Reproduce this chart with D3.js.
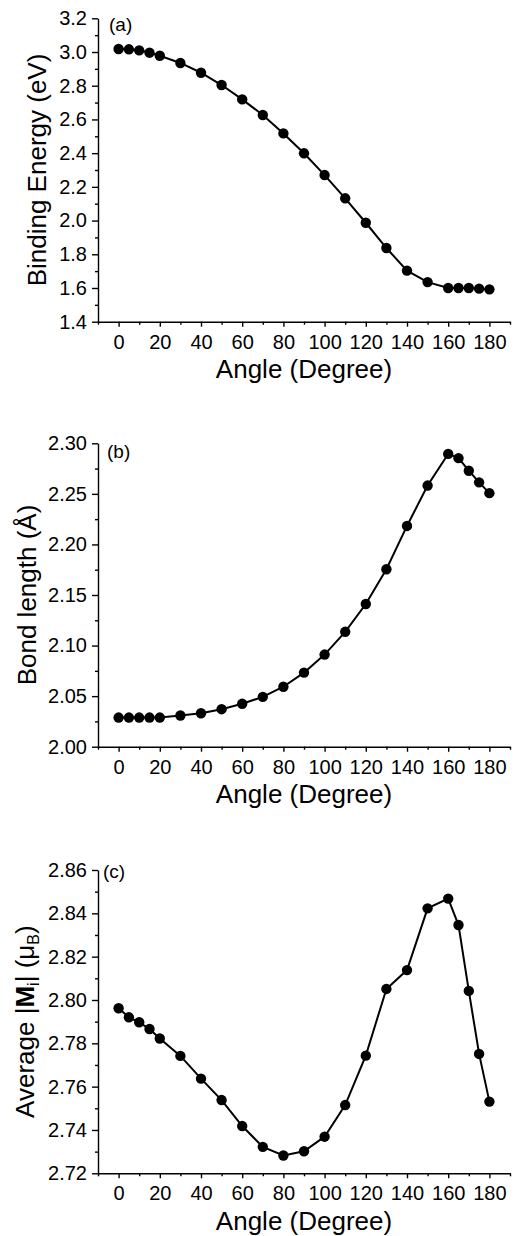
<!DOCTYPE html>
<html>
<head>
<meta charset="utf-8">
<script src="https://cdn.jsdelivr.net/npm/d3@7"></script>
<style>
  html, body { margin: 0; padding: 0; background: #fff; }
  svg { display: block; }
  text { font-family: "Liberation Sans", Arial, sans-serif; fill: #000; }
</style>
</head>
<body>
<svg id="chart" width="515" height="1236"></svg>
<script>
// ---- data ----
const angles = [0, 5, 10, 15, 20, 30, 40, 50, 60, 70, 80, 90, 100, 110, 120, 130, 140, 150, 160, 165, 170, 175, 180];
const bindingEnergy = [3.018, 3.016, 3.010, 2.996, 2.978, 2.935, 2.877, 2.804, 2.719, 2.626, 2.517, 2.399, 2.270, 2.132, 1.987, 1.837, 1.703, 1.635, 1.600, 1.600, 1.600, 1.596, 1.592];
const bondLength = [2.0288, 2.0288, 2.0288, 2.0288, 2.0288, 2.0308, 2.0331, 2.0371, 2.0424, 2.0493, 2.0593, 2.0732, 2.0911, 2.1136, 2.1411, 2.1755, 2.2183, 2.2582, 2.2895, 2.2853, 2.2729, 2.2614, 2.2507];
const avgMoment = [2.7962, 2.7920, 2.7897, 2.7866, 2.7822, 2.7742, 2.7637, 2.7538, 2.7418, 2.7322, 2.7282, 2.7302, 2.7369, 2.7515, 2.7743, 2.8051, 2.8138, 2.8423, 2.8468, 2.8346, 2.8042, 2.7751, 2.7531];

const xTicks = [0, 20, 40, 60, 80, 100, 120, 140, 160, 180];
const xMinorTicks = [-10, 10, 30, 50, 70, 90, 110, 130, 150, 170, 190];
const yTicksA = [1.4, 1.6, 1.8, 2.0, 2.2, 2.4, 2.6, 2.8, 3.0, 3.2];
const yMinorA = [1.5, 1.7, 1.9, 2.1, 2.3, 2.5, 2.7, 2.9, 3.1];
const yTicksB = [2.00, 2.05, 2.10, 2.15, 2.20, 2.25, 2.30];
const yMinorB = [2.025, 2.075, 2.125, 2.175, 2.225, 2.275];
const yTicksC = [2.72, 2.74, 2.76, 2.78, 2.80, 2.82, 2.84, 2.86];
const yMinorC = [2.73, 2.75, 2.77, 2.79, 2.81, 2.83, 2.85];
const xTitle = "Angle (Degree)";

// ---- drawing ----
const svg = d3.select("#chart");
const X0 = 98, X1 = 510;
const x = d3.scaleLinear().domain([-10, 190]).range([X0, X1]);
const FONT = "Liberation Sans, Arial, sans-serif";

function panel(cfg) {
  const y = d3.scaleLinear().domain(cfg.domain).range([cfg.bottom, cfg.top]);
  const g = svg.append("g");

  // minor ticks
  g.append("g").attr("transform", `translate(0,${cfg.bottom})`)
    .call(d3.axisBottom(x).tickValues(xMinorTicks).tickSize(3).tickSizeOuter(0).tickFormat(""))
    .call(s => s.select(".domain").remove());
  g.append("g").attr("transform", `translate(${X0},0)`)
    .call(d3.axisLeft(y).tickValues(cfg.minor).tickSize(3).tickSizeOuter(0).tickFormat(""))
    .call(s => s.select(".domain").remove());

  // major axes
  const xa = g.append("g").attr("transform", `translate(0,${cfg.bottom})`)
    .call(d3.axisBottom(x).tickValues(xTicks).tickSize(5).tickPadding(8).tickSizeOuter(0).tickFormat(d3.format("d")));
  xa.selectAll("text").attr("font-size", 20).attr("font-family", FONT);
  const ya = g.append("g").attr("transform", `translate(${X0},0)`)
    .call(d3.axisLeft(y).tickValues(cfg.ticks).tickSize(6).tickPadding(5).tickSizeOuter(0).tickFormat(d3.format(cfg.fmt)));
  ya.selectAll("text").attr("font-size", 20).attr("font-family", FONT);
  g.selectAll(".domain, .tick line").attr("stroke", "#000").attr("stroke-width", 1.4);

  // line + markers
  const pts = angles.map((a, i) => [a, cfg.values[i]]);
  g.append("path").datum(pts)
    .attr("fill", "none").attr("stroke", "#000").attr("stroke-width", 2)
    .attr("d", d3.line().x(d => x(d[0])).y(d => y(d[1])));
  g.selectAll("circle").data(pts).join("circle")
    .attr("cx", d => x(d[0])).attr("cy", d => y(d[1])).attr("r", 5.2).attr("fill", "#000");

  // panel label
  g.append("text").attr("x", cfg.labelX).attr("y", cfg.labelY)
    .attr("font-size", 19).text(cfg.label);

  // x title
  g.append("text").attr("x", (X0 + X1) / 2).attr("y", cfg.bottom + 56.5)
    .attr("text-anchor", "middle").attr("font-size", 26).text(xTitle);

  // y title
  const yt = g.append("text")
    .attr("transform", `translate(${cfg.titleX},${(cfg.top + cfg.bottom) / 2}) rotate(-90)`)
    .attr("text-anchor", "middle").attr("font-size", 26);
  cfg.title(yt);
}

panel({
  domain: [1.4, 3.2], top: 18.3, bottom: 321.7, ticks: yTicksA, minor: yMinorA, fmt: ".1f",
  values: bindingEnergy, label: "(a)", labelX: 109, labelY: 31, titleX: 46,
  title: t => t.text("Binding Energy (eV)")
});
panel({
  domain: [2.00, 2.30], top: 443.3, bottom: 746.7, ticks: yTicksB, minor: yMinorB, fmt: ".2f",
  values: bondLength, label: "(b)", labelX: 107, labelY: 458, titleX: 35.5,
  title: t => t.text("Bond length (Å)")
});
panel({
  domain: [2.72, 2.86], top: 870, bottom: 1173.3, ticks: yTicksC, minor: yMinorC, fmt: ".2f",
  values: avgMoment, label: "(c)", labelX: 103, labelY: 878, titleX: 34,
  title: t => {
    t.append("tspan").text("Average |");
    t.append("tspan").attr("font-weight", "bold").text("M");
    t.append("tspan").attr("font-size", 16).attr("dy", 5).text("i");
    t.append("tspan").attr("dy", -5).text("| (μ");
    t.append("tspan").attr("font-size", 16).attr("dy", 5).text("B");
    t.append("tspan").attr("dy", -5).text(")");
  }
});
</script>
</body>
</html>
